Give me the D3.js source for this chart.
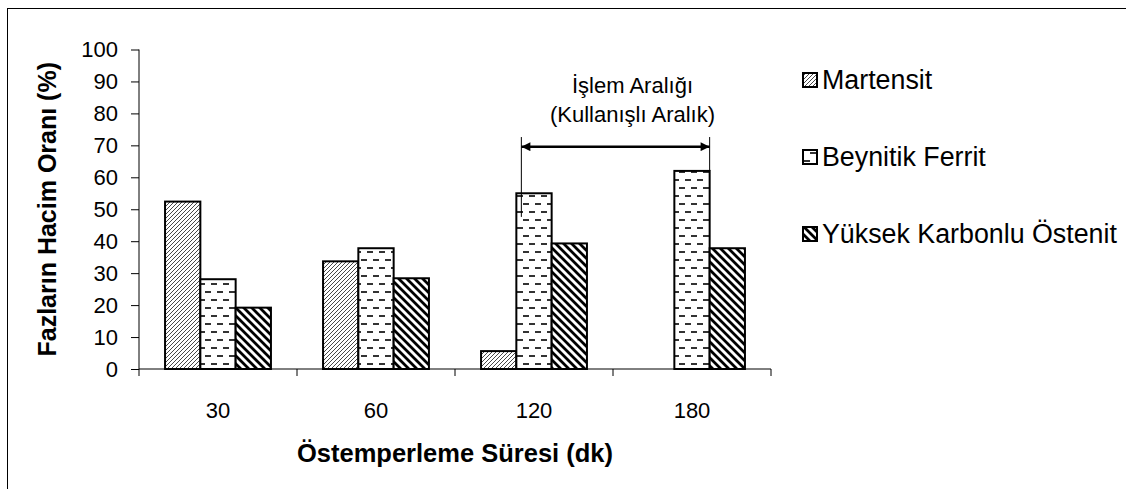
<!DOCTYPE html>
<html>
<head>
<meta charset="utf-8">
<script src="https://cdn.jsdelivr.net/npm/d3@7"></script>
<style>
  html, body { margin: 0; padding: 0; background: #fff; }
  svg { display: block; }
  text { font-family: "Liberation Sans", Arial, sans-serif; fill: #000; }
</style>
</head>
<body>
<svg id="chart" width="1126" height="489"></svg>
<script>
// ---- data ----
const categories = ["30", "60", "120", "180"];
const seriesNames = ["Martensit", "Beynitik Ferrit", "Yüksek Karbonlu Östenit"];
const martensit = [52.4, 33.7, 5.6, 0];
const beynitikFerrit = [28.1, 37.8, 55.0, 62.0];
const yuksekKarbonluOstenit = [19.2, 28.4, 39.3, 37.8];
const yTicks = [0, 10, 20, 30, 40, 50, 60, 70, 80, 90, 100];
const yTitle = "Fazların Hacim Oranı (%)";
const xTitle = "Östemperleme Süresi (dk)";
const noteLines = ["İşlem Aralığı", "(Kullanışlı Aralık)"];

const seriesValues = [martensit, beynitikFerrit, yuksekKarbonluOstenit];
const patternIds = ["pMart", "pBey", "pYuk"];

const svg = d3.select("#chart");

// ---- patterns ----
const defs = svg.append("defs");
{
  const p = defs.append("pattern").attr("id", "pMart").attr("patternUnits", "userSpaceOnUse")
    .attr("width", 4).attr("height", 4);
  p.append("rect").attr("width", 4).attr("height", 4).attr("fill", "#fff");
  p.append("path").attr("d", "M-1,1 L1,-1 M0,4 L4,0 M3,5 L5,3")
    .attr("stroke", "#333").attr("stroke-width", 0.9);
}
{
  const p = defs.append("pattern").attr("id", "pBey").attr("patternUnits", "userSpaceOnUse")
    .attr("width", 12).attr("height", 16);
  p.append("rect").attr("width", 12).attr("height", 16).attr("fill", "#fff");
  p.append("rect").attr("x", 1).attr("y", 3).attr("width", 6).attr("height", 2).attr("fill", "#333");
  p.append("rect").attr("x", 7).attr("y", 11).attr("width", 5).attr("height", 2).attr("fill", "#333");
  p.append("rect").attr("x", 0).attr("y", 11).attr("width", 1).attr("height", 2).attr("fill", "#333");
}
{
  const p = defs.append("pattern").attr("id", "pYuk").attr("patternUnits", "userSpaceOnUse")
    .attr("width", 8).attr("height", 8);
  p.append("rect").attr("width", 8).attr("height", 8).attr("fill", "#fff");
  p.append("path").attr("d", "M-1,-1 L9,9 M-5,3 L5,13 M3,-5 L13,5")
    .attr("stroke", "#000").attr("stroke-width", 2.8);
}
const arrowM = defs.append("marker").attr("id", "arr").attr("viewBox", "0 0 10 10")
  .attr("refX", 10).attr("refY", 5).attr("markerWidth", 14).attr("markerHeight", 9)
  .attr("markerUnits", "userSpaceOnUse").attr("orient", "auto-start-reverse");
arrowM.append("path").attr("d", "M0,0 L10,5 L0,10 Z").attr("fill", "#000");

// ---- outer frame ----
svg.append("rect").attr("x", 7.5).attr("y", 8.5).attr("width", 1300).attr("height", 700)
  .attr("fill", "none").attr("stroke", "#000").attr("stroke-width", 1);

// ---- scales ----
const plot = { left: 139, right: 771, top: 49.5, bottom: 369 };
const x = d3.scaleBand().domain(categories).range([plot.left, plot.right]).padding(0);
const xs = d3.scaleBand().domain(seriesNames).range([0, x.bandwidth()]).paddingInner(0).paddingOuter(0.738);
const y = d3.scaleLinear().domain([0, 100]).range([plot.bottom, plot.top]);

// ---- bars ----
const barData = [];
seriesNames.forEach((s, si) => {
  categories.forEach((c, ci) => {
    if (seriesValues[si][ci] > 0) barData.push({ s, si, c, v: seriesValues[si][ci] });
  });
});
svg.append("g").selectAll("rect").data(barData).join("rect")
  .attr("x", d => x(d.c) + xs(d.s))
  .attr("y", d => y(d.v))
  .attr("width", xs.bandwidth())
  .attr("height", d => y(0) - y(d.v))
  .attr("fill", d => `url(#${patternIds[d.si]})`)
  .attr("stroke", "#000").attr("stroke-width", 2);

// ---- y axis ----
const yAxis = svg.append("g").attr("transform", `translate(${plot.left},0)`)
  .call(d3.axisLeft(y).tickValues(yTicks).tickSize(8).tickPadding(13));
yAxis.selectAll("path, line").attr("stroke", "#000").attr("stroke-width", 1);
yAxis.select(".domain").attr("d", `M0,${plot.top}V${plot.bottom}`);
yAxis.selectAll("text").attr("font-size", 22).attr("font-family", "Liberation Sans, Arial, sans-serif");

// ---- x axis ----
const xAxis = svg.append("g").attr("transform", `translate(0,${plot.bottom})`)
  .call(d3.axisBottom(x).tickSize(0).tickPadding(33));
xAxis.select(".domain").attr("stroke", "#000").attr("d", `M${plot.left},0H${plot.right}`);
xAxis.selectAll("text").attr("font-size", 22).attr("font-family", "Liberation Sans, Arial, sans-serif");
const boundaries = categories.map(c => x(c)).concat([x(categories[categories.length - 1]) + x.bandwidth()]);
xAxis.selectAll("line.bnd").data(boundaries).join("line").attr("class", "bnd")
  .attr("x1", d => d).attr("x2", d => d).attr("y1", 0).attr("y2", 7).attr("stroke", "#000");

// ---- axis titles ----
svg.append("text")
  .attr("transform", `translate(56,${(plot.top + plot.bottom) / 2}) rotate(-90)`)
  .attr("text-anchor", "middle").attr("font-weight", "bold").attr("font-size", 25)
  .text(yTitle);
svg.append("text")
  .attr("x", (plot.left + plot.right) / 2).attr("y", 462)
  .attr("text-anchor", "middle").attr("font-weight", "bold").attr("font-size", 25.5)
  .text(xTitle);

// ---- annotation ----
const leftX = x("120") + xs("Beynitik Ferrit") + 5;
const rightX = x("180") + xs("Beynitik Ferrit") + xs.bandwidth();
const ann = svg.append("g");
ann.append("line").attr("x1", leftX).attr("x2", leftX).attr("y1", y(72.6)).attr("y2", y(47.6))
  .attr("stroke", "#000").attr("stroke-width", 1);
ann.append("line").attr("x1", rightX).attr("x2", rightX).attr("y1", y(72.6)).attr("y2", y(62))
  .attr("stroke", "#000").attr("stroke-width", 1);
ann.append("line").attr("x1", leftX).attr("x2", rightX).attr("y1", y(69.6)).attr("y2", y(69.6))
  .attr("stroke", "#000").attr("stroke-width", 2.5)
  .attr("marker-start", "url(#arr)").attr("marker-end", "url(#arr)");
ann.selectAll("text").data(noteLines).join("text")
  .attr("x", (leftX + rightX) / 2 + 17)
  .attr("y", (d, i) => y(86.4) + i * 29)
  .attr("text-anchor", "middle").attr("font-size", 22)
  .text(d => d);

// ---- legend ----
const legendRowsY = [80, 157, 234];
const leg = svg.append("g").selectAll("g").data(seriesNames).join("g")
  .attr("transform", (d, i) => `translate(803,${legendRowsY[i]})`);
leg.append("rect").attr("x", 0).attr("y", -7).attr("width", 14).attr("height", 14)
  .attr("fill", (d, i) => `url(#${patternIds[i]})`).attr("stroke", "#000").attr("stroke-width", 2);
leg.append("text").attr("x", 19).attr("y", 9).attr("font-size", 26.8).text(d => d);
</script>
</body>
</html>
